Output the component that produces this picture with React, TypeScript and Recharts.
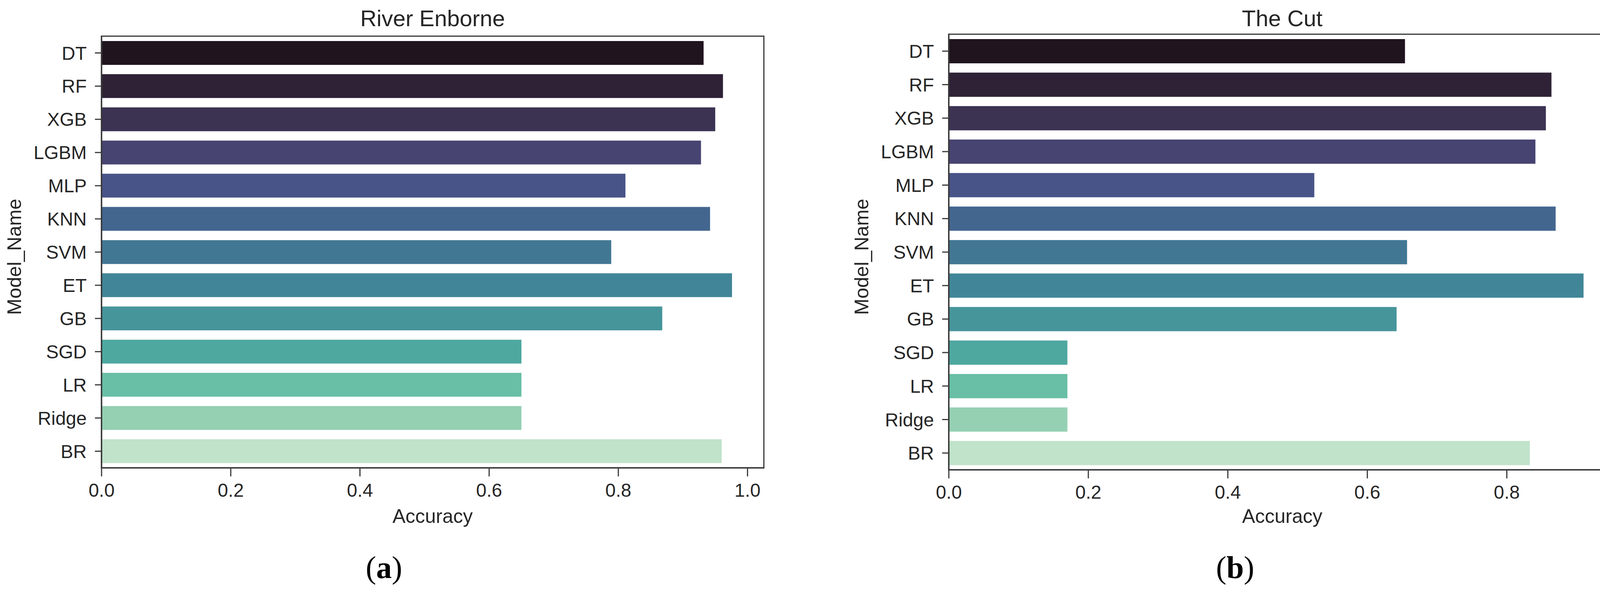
import React from 'react'
import { BarChart, Bar, XAxis, YAxis, Cell } from 'recharts'

const models = ['DT', 'RF', 'XGB', 'LGBM', 'MLP', 'KNN', 'SVM', 'ET', 'GB', 'SGD', 'LR', 'Ridge', 'BR']

const enborneAccuracy = [0.932, 0.962, 0.95, 0.928, 0.811, 0.942, 0.789, 0.976, 0.868, 0.65, 0.65, 0.65, 0.96]
const cutAccuracy = [0.654, 0.864, 0.856, 0.841, 0.524, 0.87, 0.657, 0.91, 0.642, 0.17, 0.17, 0.17, 0.833]

const barColors = [
  '#20141f', '#2f2236', '#3c3252', '#474472', '#485488', '#43668f', '#427794',
  '#418698', '#46959b', '#4ea8a0', '#68bfa6', '#95d0b3', '#c0e3c9',
]

const enborneTicks = [0, 0.2, 0.4, 0.6, 0.8, 1.0]
const cutTicks = [0, 0.2, 0.4, 0.6, 0.8]

const FONT = '"Liberation Sans", Arial, sans-serif'
const INK = '#262626'
const SPINE = '#3a3a3a'
const SPINE_W = 3.5
const H = 1525
const Y_AXIS_W = 200
const X_AXIS_H = 100

type PanelProps = {
  offset: number
  width: number
  plot: { x0: number; x1: number; y0: number; y1: number }
  values: number[]
  ticks: number[]
  xMax: number
  title: string
  tag: string
  tagX: number
}

function Panel({ offset, width, plot, values, ticks, xMax, title, tag, tagX }: PanelProps) {
  const data = models.map((model, i) => ({ model, acc: values[i] }))
  const cx = (plot.x0 + plot.x1) / 2
  const cy = (plot.y0 + plot.y1) / 2
  const axisLine = { stroke: SPINE, strokeWidth: SPINE_W }

  return (
    <>
      <div style={{ position: 'absolute', left: offset, top: 0 }}>
        <BarChart
          width={width}
          height={H}
          data={data}
          layout="vertical"
          barCategoryGap="14%"
          margin={{
            top: plot.y0,
            bottom: H - plot.y1 - X_AXIS_H,
            left: plot.x0 - offset - Y_AXIS_W,
            right: offset + width - plot.x1,
          }}
        >
          <XAxis
            type="number"
            domain={[0, xMax]}
            ticks={ticks}
            tickFormatter={(v: number) => v.toFixed(1)}
            height={X_AXIS_H}
            axisLine={axisLine}
            tickLine={{ stroke: SPINE, strokeWidth: 3 }}
            tickSize={22}
            tickMargin={18}
            tick={{ fill: INK, fontSize: 48, fontFamily: FONT }}
            allowDataOverflow
          />
          <YAxis
            type="category"
            dataKey="model"
            width={Y_AXIS_W}
            axisLine={axisLine}
            tickLine={{ stroke: SPINE, strokeWidth: 3 }}
            tickSize={17}
            tickMargin={21}
            interval={0}
            tick={{ fill: INK, fontSize: 48, fontFamily: FONT }}
          />
          <Bar dataKey="acc" isAnimationActive={false}>
            {data.map((d, i) => (
              <Cell key={d.model} fill={barColors[i]} />
            ))}
          </Bar>
        </BarChart>
      </div>

      {/* axes frame (top and right spines) */}
      <div
        style={{
          position: 'absolute',
          left: plot.x0 - SPINE_W / 2,
          top: plot.y0 - SPINE_W / 2,
          width: plot.x1 - plot.x0 + SPINE_W,
          height: plot.y1 - plot.y0 + SPINE_W,
          boxSizing: 'border-box',
          border: `${SPINE_W}px solid ${SPINE}`,
          pointerEvents: 'none',
        }}
      />

      <div
        style={{
          position: 'absolute', left: cx, top: 18, transform: 'translateX(-50%)',
          fontFamily: FONT, fontSize: 58, lineHeight: 1, color: INK, whiteSpace: 'nowrap',
        }}
      >
        {title}
      </div>
      <div
        style={{
          position: 'absolute', left: cx, top: 1296, transform: 'translateX(-50%)',
          fontFamily: FONT, fontSize: 50, lineHeight: 1, color: INK, whiteSpace: 'nowrap',
        }}
      >
        Accuracy
      </div>
      <div
        style={{
          position: 'absolute', left: plot.x0 - 223, top: cy + 12,
          transform: 'translate(-50%, -50%) rotate(-90deg)',
          fontFamily: FONT, fontSize: 50, lineHeight: 1, color: INK, whiteSpace: 'nowrap',
        }}
      >
        Model_Name
      </div>
      <div
        style={{
          position: 'absolute', left: tagX, top: 1412, transform: 'translateX(-50%)',
          fontFamily: '"Liberation Serif", "Times New Roman", serif', fontSize: 80,
          lineHeight: 1, color: '#000', whiteSpace: 'nowrap',
        }}
      >
        (<b>{tag}</b>)
      </div>
    </>
  )
}

export default function App() {
  return (
    <div
      style={{
        position: 'absolute', left: 0, top: 0, width: 4152, height: H,
        background: '#fff', overflow: 'hidden',
      }}
    >
      <Panel
        offset={0}
        width={2076}
        plot={{ x0: 260, x1: 1955, y0: 93, y1: 1197 }}
        values={enborneAccuracy}
        ticks={enborneTicks}
        xMax={1.025}
        title="River Enborne"
        tag="a"
        tagX={983}
      />
      <Panel
        offset={2076}
        width={2076}
        plot={{ x0: 2429, x1: 4136, y0: 88, y1: 1202 }}
        values={cutAccuracy}
        ticks={cutTicks}
        xMax={0.956}
        title="The Cut"
        tag="b"
        tagX={3162}
      />
    </div>
  )
}
